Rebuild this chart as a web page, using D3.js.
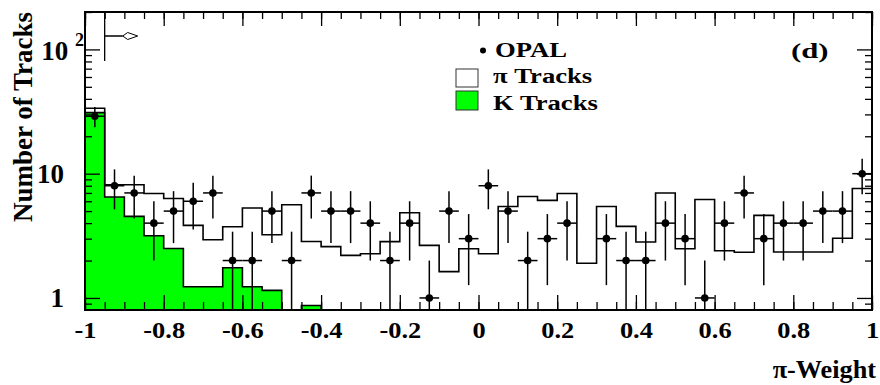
<!DOCTYPE html>
<html><head><meta charset="utf-8">
<script src="https://cdn.jsdelivr.net/npm/d3@7"></script>
<style>
body{margin:0;background:#fff}
svg{display:block}
text{font-family:"Liberation Serif","Times New Roman",serif;font-weight:bold;fill:#000}
</style>
</head><body>
<svg id="c" width="880" height="385"></svg>
<script>
// ---------------- data ----------------
const binCenters = [-0.975,-0.925,-0.875,-0.825,-0.775,-0.725,-0.675,-0.625,-0.575,-0.525,
  -0.475,-0.425,-0.375,-0.325,-0.275,-0.225,-0.175,-0.125,-0.075,-0.025,
  0.025,0.075,0.125,0.175,0.225,0.275,0.325,0.375,0.425,0.475,
  0.525,0.575,0.625,0.675,0.725,0.775,0.825,0.875,0.925,0.975];
const binWidth = 0.05;
const opalCounts = [29,8,7,4,5,6,7,2,2,5,
  2,7,5,5,4,2,4,1,5,3,
  8,5,2,3,4,0,3,2,2,4,
  3,1,4,7,3,4,4,5,5,10];
const piTracks = [33.6,8.15,8.15,6.93,6.32,3.84,2.94,3.74,5.3,3.23,
  5.62,2.85,2.59,2.2,2.27,2.84,4.85,2.65,1.63,2.49,
  2.27,5.45,6.56,6.1,6.93,1.9,5.45,3.77,2.82,7.0,
  2.49,6.2,2.4,2.33,4.62,2.34,2.34,2.34,3.02,7.6];
const kTracks = [31.0,6.5,4.53,3.17,2.5,1.23,1.23,1.75,1.23,1.15,
  0,0.87,0,0,0,0,0,0,0,0,
  0,0,0,0,0,0,0,0,0,0,
  0,0,0,0,0,0,0,0,0,0];
const xTickValues = [-1,-0.8,-0.6,-0.4,-0.2,0,0.2,0.4,0.6,0.8,1];
const xTickLabels = ["-1","-0.8","-0.6","-0.4","-0.2","0","0.2","0.4","0.6","0.8","1"];
const xMinorValues = d3.range(-1,1.0001,0.05);
const yTickValues = [1,10,100];
const yTickLabels = ["1","10","10"];
const yTickExponents = ["","","2"];
const yMinorValues = [0.9,2,3,4,5,6,7,8,9,20,30,40,50,60,70,80,90,200];
const legendLabels = ["OPAL","π Tracks","K Tracks"];
const panelLabel = "(d)";
const xTitle = "π-Weight";
const yTitle = "Number of Tracks";
const cutValue = -0.95;

// ---------------- layout ----------------
const L=85, R=872, T=12, B=310;
const yMin = 0.8, yMax = 200;
const x = d3.scaleLinear().domain([-1,1]).range([L,R]);
const y = d3.scaleLog().domain([yMin,yMax]).range([B,T]);
const green = "#00ff00";
const svg = d3.select("#c");

function stepPoints(vals){
  const pts=[[x(-1),y(yMin)]];
  vals.forEach((v,i)=>{
    const vv=Math.max(v,yMin);
    pts.push([x(binCenters[i]-binWidth/2),y(vv)],[x(binCenters[i]+binWidth/2),y(vv)]);
  });
  pts.push([x(1),y(yMin)]);
  return pts;
}
const line = d3.line();

// pi tracks histogram
svg.append("path").attr("d",line(stepPoints(piTracks)))
  .attr("fill","#fff").attr("stroke","#000").attr("stroke-width",1.6);
// K tracks histogram
svg.append("path").attr("d",line(stepPoints(kTracks)))
  .attr("fill",green).attr("stroke","#000").attr("stroke-width",1.6);

// data points
const pts = binCenters.map((c,i)=>({c,n:opalCounts[i]})).filter(d=>d.n>0);
const g = svg.append("g").attr("stroke","#000").attr("stroke-width",1.5);
pts.forEach(d=>{
  const e=Math.sqrt(d.n);
  g.append("line").attr("x1",x(d.c)).attr("x2",x(d.c))
    .attr("y1",y(d.n+e)).attr("y2",y(Math.max(d.n-e,yMin)));
  g.append("line").attr("x1",x(d.c-binWidth/2)).attr("x2",x(d.c+binWidth/2))
    .attr("y1",y(d.n)).attr("y2",y(d.n));
});
svg.append("g").selectAll("circle").data(pts).join("circle")
  .attr("cx",d=>x(d.c)).attr("cy",d=>y(d.n)).attr("r",3.8).attr("fill","#000");

// axes (ticks inward)
function styleAxis(sel){ sel.select(".domain").remove(); sel.selectAll("line").attr("stroke","#000").attr("stroke-width",1.3); }
svg.append("g").attr("transform",`translate(0,${B})`)
  .call(d3.axisBottom(x).tickValues(xMinorValues).tickSize(-8).tickFormat("")).call(styleAxis);
svg.append("g").attr("transform",`translate(0,${B})`)
  .call(d3.axisBottom(x).tickValues(xTickValues).tickSize(-15).tickPadding(11).tickFormat((d,i)=>xTickLabels[i]))
  .call(styleAxis)
  .call(s=>s.selectAll("text").attr("font-size",24).attr("font-family",null).attr("transform","scale(1.1,1)"));
svg.append("g").attr("transform",`translate(0,${T})`)
  .call(d3.axisTop(x).tickValues(xMinorValues).tickSize(-7).tickFormat("")).call(styleAxis);
svg.append("g").attr("transform",`translate(0,${T})`)
  .call(d3.axisTop(x).tickValues(xTickValues).tickSize(-14).tickFormat("")).call(styleAxis);
svg.append("g").attr("transform",`translate(${L},0)`)
  .call(d3.axisLeft(y).tickValues(yMinorValues).tickSize(-7).tickFormat("")).call(styleAxis);
svg.append("g").attr("transform",`translate(${L},0)`)
  .call(d3.axisLeft(y).tickValues(yTickValues).tickSize(-15).tickFormat("")).call(styleAxis);
svg.append("g").attr("transform",`translate(${R},0)`)
  .call(d3.axisRight(y).tickValues(yMinorValues).tickSize(-7).tickFormat("")).call(styleAxis);
svg.append("g").attr("transform",`translate(${R},0)`)
  .call(d3.axisRight(y).tickValues(yTickValues).tickSize(-15).tickFormat("")).call(styleAxis);

// y tick labels
yTickValues.forEach((v,i)=>{
  const t = svg.append("text").attr("font-size",27).attr("text-anchor","end");
  if(yTickExponents[i]){
    t.attr("x",84).attr("y",y(v)+11);
    t.append("tspan").text(yTickLabels[i]+" ");
    t.append("tspan").attr("font-size",18).attr("dy",-14).text(yTickExponents[i]);
  } else t.attr("x",64).attr("y",y(v)+9).text(yTickLabels[i]);
});

// frame
svg.append("rect").attr("x",L).attr("y",T).attr("width",R-L).attr("height",B-T)
  .attr("fill","none").attr("stroke","#000").attr("stroke-width",2);

// cut arrow
const xc = x(cutValue);
svg.append("path").attr("d",`M${xc},${T}V61M${xc},36H${xc+18}`).attr("stroke","#000").attr("stroke-width",1.3).attr("fill","none");
svg.append("path").attr("d",`M${xc+18},36L${xc+23},32.5L${xc+33},36L${xc+23},39.5Z`)
  .attr("stroke","#000").attr("stroke-width",1).attr("fill","#fff");

// legend
svg.append("circle").attr("cx",483).attr("cy",50.5).attr("r",3).attr("fill","#000");
svg.append("rect").attr("x",456).attr("y",69).attr("width",22).attr("height",18).attr("fill","#fff").attr("stroke","#333").attr("stroke-width",1);
svg.append("rect").attr("x",456).attr("y",91).attr("width",22).attr("height",19).attr("fill",green).attr("stroke","#333").attr("stroke-width",1);
const legY=[57,83,110], legX=[495,493,493];
legendLabels.forEach((s,i)=>{
  svg.append("text").attr("transform",`translate(${legX[i]},${legY[i]}) scale(1.24,1)`).attr("font-size",21.5).text(s);
});
svg.append("text").attr("transform","translate(791,58) scale(1.4,1)").attr("font-size",22).text(panelLabel);

// axis titles
svg.append("text").attr("transform","translate(876,378) scale(1.05,1)").attr("text-anchor","end").attr("font-size",25).text(xTitle);
svg.append("text").attr("transform","translate(32,12) rotate(-90)").attr("text-anchor","end").attr("font-size",27).text(yTitle);
</script>
</body></html>
